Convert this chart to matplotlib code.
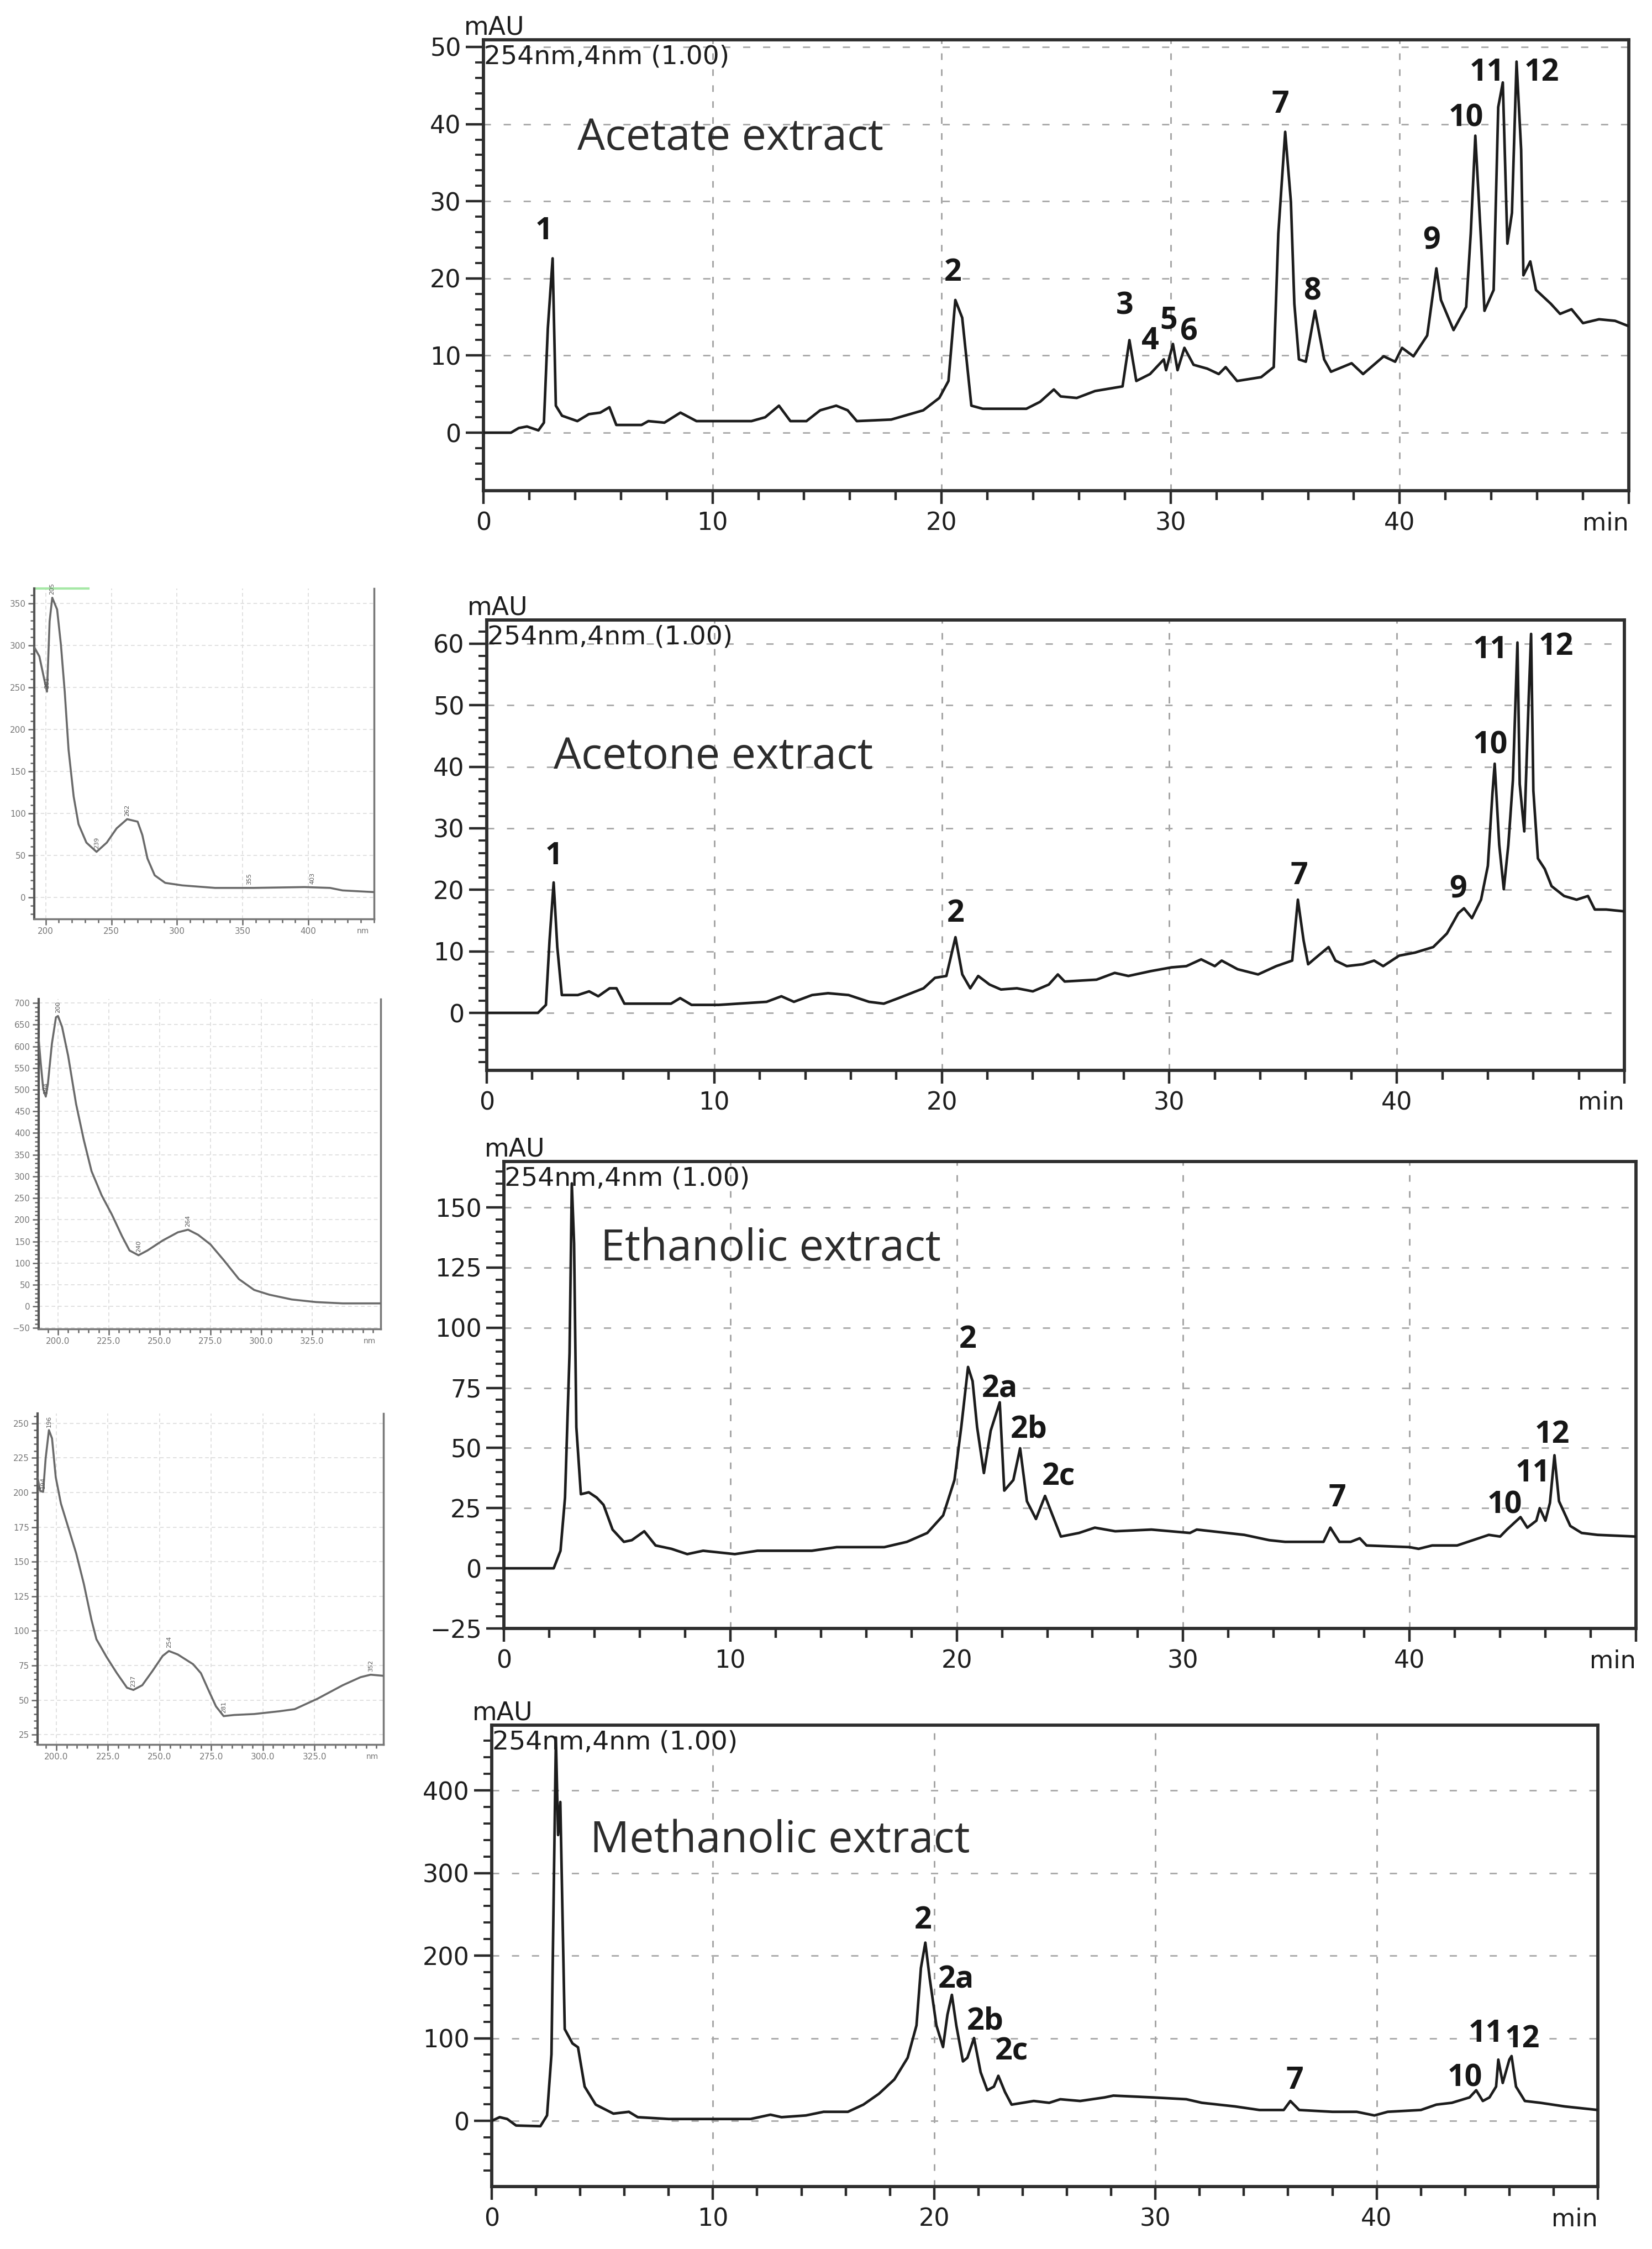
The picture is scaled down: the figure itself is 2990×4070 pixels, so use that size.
import numpy as np
import matplotlib
matplotlib.use("Agg")
import matplotlib.pyplot as plt
from matplotlib.ticker import MultipleLocator

# HPLC chromatograms at 254 nm: (retention time [min], signal [mAU])
acetate = np.array([
    (0, 0), (1.2, 0), (1.54, 0.6), (1.9, 0.8), (2.4, 0.3), (2.64, 1.3), (2.81, 13.5), (3.02, 22.6),
    (3.16, 3.5), (3.43, 2.2), (4.1, 1.5), (4.6, 2.4), (5.1, 2.6), (5.5, 3.3), (5.8, 1.0), (6.9, 1.0),
    (7.2, 1.5), (7.9, 1.3), (8.6, 2.6), (9.3, 1.5), (11.7, 1.5), (12.3, 2.0), (12.9, 3.5), (13.4, 1.5),
    (14.1, 1.5), (14.7, 2.9), (15.4, 3.5), (15.9, 2.9), (16.3, 1.5), (17.8, 1.7), (19.2, 2.9), (19.9, 4.5),
    (20.3, 6.7), (20.6, 17.2), (20.9, 14.9), (21.3, 3.5), (21.8, 3.1), (23.7, 3.1), (24.3, 4.0), (24.9, 5.6),
    (25.2, 4.7), (25.9, 4.5), (26.7, 5.4), (27.9, 6.0), (28.2, 12.0), (28.5, 6.7), (29.1, 7.6), (29.7, 9.5),
    (29.8, 8.1), (30.1, 11.5), (30.3, 8.1), (30.6, 11.0), (31.0, 8.8), (31.6, 8.3), (32.1, 7.6), (32.4, 8.5),
    (32.9, 6.7), (33.95, 7.2), (34.5, 8.5), (34.7, 25.8), (35.0, 39.0), (35.25, 29.9), (35.4, 16.7),
    (35.6, 9.5), (35.9, 9.2), (36.3, 15.8), (36.7, 9.5), (37.0, 7.9), (37.9, 9.0), (38.4, 7.6), (39.3, 9.9),
    (39.8, 9.2), (40.1, 11.0), (40.6, 9.9), (41.2, 12.6), (41.6, 21.3), (41.8, 17.2), (42.35, 13.3),
    (42.9, 16.3), (43.1, 25.8), (43.3, 38.5), (43.55, 24.9), (43.7, 15.8), (44.1, 18.5), (44.3, 42.2),
    (44.5, 45.4), (44.7, 24.5), (44.9, 28.5), (45.1, 48.1), (45.3, 36.7), (45.4, 20.4), (45.7, 22.2),
    (45.95, 18.5), (46.6, 16.7), (47.0, 15.4), (47.5, 16.0), (48.0, 14.2), (48.7, 14.7), (49.4, 14.5),
    (50.0, 13.8)])

acetone = np.array([
    (0, 0), (2.25, 0), (2.6, 1.3), (2.76, 11.8), (2.94, 21.2), (3.1, 10.7), (3.3, 2.9), (4.0, 2.9),
    (4.5, 3.5), (4.9, 2.7), (5.4, 4.0), (5.7, 4.0), (6.05, 1.5), (8.1, 1.5), (8.5, 2.4), (9.0, 1.3),
    (10.2, 1.3), (12.3, 1.8), (12.95, 2.7), (13.5, 1.8), (14.3, 2.9), (15.0, 3.2), (15.9, 2.9), (16.8, 1.8),
    (17.45, 1.5), (18.1, 2.4), (19.2, 4.0), (19.7, 5.7), (20.2, 6.0), (20.6, 12.3), (20.9, 6.25),
    (21.25, 4.0), (21.6, 6.0), (22.1, 4.6), (22.6, 3.8), (23.3, 4.0), (24.0, 3.5), (24.7, 4.6), (25.1, 6.25),
    (25.4, 5.1), (26.8, 5.4), (27.6, 6.5), (28.2, 6.0), (29.2, 6.8), (30.1, 7.4), (30.75, 7.6), (31.4, 8.7),
    (32.0, 7.6), (32.3, 8.5), (33.0, 7.1), (33.9, 6.25), (34.7, 7.6), (35.4, 8.5), (35.65, 18.4),
    (35.9, 11.8), (36.1, 7.9), (36.45, 9.0), (37.0, 10.7), (37.3, 8.5), (37.8, 7.6), (38.5, 7.9), (39.0, 8.5),
    (39.4, 7.6), (40.1, 9.3), (40.8, 9.8), (41.6, 10.7), (42.2, 12.9), (42.7, 16.2), (42.95, 17.0),
    (43.3, 15.4), (43.7, 18.4), (44.0, 23.9), (44.2, 35.6), (44.3, 40.5), (44.5, 27.3), (44.7, 20.1),
    (44.9, 27.3), (45.1, 37.8), (45.3, 60.2), (45.4, 37.2), (45.6, 29.5), (45.8, 51.6), (45.9, 61.6),
    (46.0, 36.1), (46.2, 25.1), (46.5, 23.4), (46.8, 20.6), (47.35, 19.0), (47.9, 18.4), (48.4, 19.0),
    (48.7, 16.8), (49.2, 16.8), (50.0, 16.5)])

ethanolic = np.array([
    (0, 0), (2.2, 0), (2.5, 7.3), (2.7, 29.4), (2.9, 89.5), (3.0, 160), (3.1, 135), (3.2, 58.7), (3.4, 30.8),
    (3.75, 31.6), (4.1, 29.4), (4.4, 26.4), (4.8, 16.1), (5.3, 11.0), (5.65, 11.7), (6.2, 15.4), (6.7, 9.5),
    (7.4, 8.1), (8.1, 5.9), (8.8, 7.3), (10.2, 5.9), (11.2, 7.3), (13.6, 7.3), (14.7, 8.8), (16.8, 8.8),
    (17.8, 11.0), (18.7, 14.7), (19.4, 22.0), (19.9, 36.7), (20.2, 58.7), (20.5, 83.7), (20.7, 77.8),
    (20.9, 58.7), (21.2, 39.6), (21.5, 57.2), (21.9, 69.0), (22.1, 32.3), (22.5, 36.7), (22.8, 49.9),
    (23.1, 27.9), (23.5, 20.5), (23.9, 30.1), (24.2, 22.8), (24.6, 13.2), (25.4, 14.7), (26.1, 16.9),
    (27.0, 15.4), (28.6, 16.1), (30.3, 14.7), (30.6, 16.1), (32.7, 13.9), (33.8, 11.7), (34.5, 11.0),
    (36.2, 11.0), (36.5, 16.9), (36.9, 11.0), (37.4, 11.0), (37.8, 12.5), (38.1, 9.5), (40.0, 8.8),
    (40.4, 8.1), (41.0, 9.5), (42.1, 9.5), (42.8, 11.7), (43.5, 13.9), (44.0, 13.2), (44.3, 16.1),
    (44.9, 21.3), (45.2, 16.9), (45.6, 19.8), (45.75, 25.0), (46.0, 19.8), (46.2, 27.2), (46.4, 47.0),
    (46.6, 27.9), (47.1, 17.6), (47.6, 14.7), (48.3, 13.9), (50.0, 13.2)])

methanolic = np.array([
    (0, 0), (0.36, 4.4), (0.7, 2.2), (1.1, -5.7), (2.2, -6.5), (2.5, 6.5), (2.7, 80.6), (2.9, 464),
    (3.0, 346), (3.1, 386), (3.3, 111), (3.65, 93.7), (3.9, 89), (4.2, 41.4), (4.7, 19.6), (5.5, 8.7),
    (6.2, 10.9), (6.6, 4.4), (8.0, 2.2), (11.7, 2.2), (12.6, 7.4), (13.1, 4.4), (14.2, 6.5), (15.0, 10.9),
    (16.1, 10.9), (16.8, 19.6), (17.5, 32.7), (18.2, 50.1), (18.8, 76.3), (19.2, 115.5), (19.4, 185),
    (19.6, 215.7), (19.8, 172), (20.1, 115.5), (20.4, 89.3), (20.6, 128.5), (20.8, 152.5), (21.0, 115.5),
    (21.3, 71.9), (21.5, 76.3), (21.8, 100.2), (22.1, 58.8), (22.4, 37), (22.7, 41.4), (22.9, 54.5),
    (23.2, 34.9), (23.5, 19.6), (24.5, 24), (25.2, 21.8), (25.7, 26.1), (26.6, 24), (27.7, 28.3),
    (28.1, 30.5), (29.9, 28.3), (31.4, 26.1), (32.1, 21.8), (33.6, 17.4), (34.7, 13.1), (35.8, 13.1),
    (36.1, 24), (36.5, 13.1), (38.0, 10.9), (39.1, 10.9), (39.9, 6.5), (40.5, 10.9), (42.0, 13.1),
    (42.7, 19.6), (43.4, 21.8), (44.2, 28.3), (44.5, 37), (44.8, 24), (45.1, 28.3), (45.4, 41.4),
    (45.5, 74.1), (45.7, 45.8), (46.0, 74.1), (46.1, 78.4), (46.3, 41.4), (46.7, 24), (47.4, 21.8),
    (48.5, 17.4), (50.0, 13.1)])

# peak numbers: (label, time, height of label baseline)
acetate_peaks = [("1", 2.64, 25.1), ("2", 20.5, 19.7), ("3", 28.0, 15.4), ("4", 29.1, 10.8),
                 ("5", 29.9, 13.5), ("6", 30.8, 12.0), ("7", 34.8, 41.5), ("8", 36.2, 17.2),
                 ("9", 41.4, 23.8), ("10", 42.9, 39.7), ("11", 43.8, 45.6), ("12", 46.2, 45.6)]
acetone_peaks = [("1", 2.94, 24.2), ("2", 20.6, 14.8), ("7", 35.7, 20.9), ("9", 42.7, 18.7),
                 ("10", 44.1, 42.2), ("11", 44.1, 57.7), ("12", 47.0, 58.2)]
ethanolic_peaks = [("2", 20.5, 91.7), ("2a", 21.9, 71.2), ("2b", 23.2, 54.3), ("2c", 24.5, 34.5),
                   ("7", 36.8, 25.7), ("10", 44.2, 22.8), ("11", 45.45, 36.0), ("12", 46.3, 52.1)]
methanolic_peaks = [("2", 19.5, 233), ("2a", 21.0, 161), ("2b", 22.3, 111), ("2c", 23.5, 74),
                    ("7", 36.3, 39), ("10", 44.0, 42), ("11", 44.95, 96), ("12", 46.6, 89)]

# UV spectra of peaks: (wavelength [nm], absorbance [mAU])
uv_1 = np.array([
    (191.3, 298), (195.2, 287), (199, 259), (201, 245), (203, 329), (205, 357), (208.7, 343), (211.6, 301),
    (214.5, 245), (217.4, 176), (221.3, 120), (225, 87), (231, 65), (238.7, 54), (246.5, 65), (254, 82),
    (262, 93), (270, 90), (273.6, 74), (277.5, 46), (283, 26), (291, 17), (304, 14), (329, 11), (358, 11),
    (397, 12), (416.5, 11), (426, 8), (450, 6)])
uv_2 = np.array([
    (190.5, 617), (191.5, 562), (192.75, 501), (194, 484), (195, 512), (197, 606), (199, 667), (200, 670),
    (202, 645), (205, 578), (208.9, 467), (212.7, 384), (216.5, 312), (221.5, 256), (226.5, 212),
    (231.5, 162), (235.2, 129), (239.6, 118), (244, 129), (251.5, 152), (259, 171), (264, 177), (269, 165),
    (275, 143), (281.5, 107), (289, 63), (296.5, 38), (304, 27), (315, 16), (327, 10), (340, 7),
    (358.75, 7)])
uv_3 = np.array([
    (190.9, 210.7), (192.1, 201.2), (193.6, 200.4), (194.8, 224.5), (196.4, 245), (197.9, 239),
    (199.7, 211), (202.2, 192), (205.3, 177), (209.6, 156), (213.3, 134), (217, 108), (219.4, 94),
    (224.4, 81), (229.3, 69.5), (234.2, 59), (237.3, 57.4), (241.6, 60.8), (246.5, 71), (251.5, 82),
    (254.5, 85.5), (258.8, 83), (266.2, 76), (270, 69.5), (273.6, 57.5), (277.3, 45.5), (281, 38.5),
    (286, 39.3), (295.8, 40), (308, 42), (315.4, 43.5), (326.4, 51), (338.7, 60.8), (347.3, 66.6),
    (352.2, 68.4), (358.4, 67.6)])
uv_1_marks = [201, 205, 238.7, 262, 355, 403]
uv_2_marks = [194, 200, 239.6, 264]
uv_3_marks = [193.6, 196.4, 237.3, 254.5, 281, 352.2]

W, H = 2990, 4070


def rect(left, top, right, bottom):
    # pixel box -> figure fraction
    return [left / W, 1 - bottom / H, (right - left) / W, (bottom - top) / H]


fig = plt.figure(figsize=(W / 100, H / 100), dpi=100)
fig.patch.set_facecolor("white")

chroms = [
    (acetate, acetate_peaks, "Acetate extract", (4.1, 36.7), rect(875, 72, 2948, 888),
     (-7.52, 50.93), np.arange(0, 51, 10), 2),
    (acetone, acetone_peaks, "Acetone extract", (2.94, 39.7), rect(881, 1122, 2940, 1937),
     (-9.34, 63.86), np.arange(0, 61, 10), 2),
    (ethanolic, ethanolic_peaks, "Ethanolic extract", (4.27, 128), rect(912, 2102, 2961, 2947),
     (-25, 169.1), np.arange(-25, 151, 25), 5),
    (methanolic, methanolic_peaks, "Methanolic extract", (4.45, 325), rect(890, 3122, 2892, 3957),
     (-79.6, 479), np.arange(0, 401, 100), 20),
]

ink = "#1c1c1c"
for trace, peaks, title, title_xy, box, ylim, yticks, yminor in chroms:
    ax = fig.add_axes(box)
    ax.plot(trace[:, 0], trace[:, 1], color=ink, lw=3.4, zorder=3)
    ax.set_xlim(0, 50)
    ax.set_ylim(*ylim)
    ax.set_xticks([0, 10, 20, 30, 40, 50])
    ax.set_xticklabels(["0", "10", "20", "30", "40", ""])
    ax.xaxis.set_minor_locator(MultipleLocator(2))
    ax.set_yticks(yticks)
    ax.yaxis.set_minor_locator(MultipleLocator(yminor))
    ax.tick_params(which="both", direction="out", color="#2a2a2a", labelcolor="#1e1e1e",
                   labelsize=32)
    ax.tick_params(axis="x", which="major", length=17, width=3.2, pad=10)
    ax.tick_params(axis="x", which="minor", length=12, width=3.2)
    ax.tick_params(axis="y", which="major", length=23, width=3.2, pad=6)
    ax.tick_params(axis="y", which="minor", length=11, width=2.8)
    for x in (10, 20, 30, 40):
        ax.axvline(x, color="#a0a0a0", lw=2, ls=(0, (4.3, 6.1)), zorder=1)
    for y in yticks:
        ax.axhline(y, color="#a8a8a8", lw=2, ls=(0, (4.7, 8.3)), zorder=1)
    for s in ax.spines.values():
        s.set_linewidth(4.2)
        s.set_color("#2e2e2e")

    ax.annotate("mAU", xy=(0, 1), xycoords="axes fraction", xytext=(-25, 7),
                textcoords="offset points", ha="left", va="baseline", fontsize=33, color=ink)
    ax.annotate("254nm,4nm (1.00)", xy=(0, 1), xycoords="axes fraction", xytext=(1, -6),
                textcoords="offset points", ha="left", va="top", fontsize=34, color=ink)
    ax.annotate("min", xy=(1, 0), xycoords="axes fraction", xytext=(0, -27),
                textcoords="offset points", ha="right", va="top", fontsize=32, color=ink)

    ax.text(title_xy[0], title_xy[1], title, family="Open Sans", fontsize=57,
            color="#2c2c2c", ha="left", va="baseline", zorder=4)
    for lab, t, y in peaks:
        ax.text(t, y, lab, family="Open Sans", fontweight="bold", fontsize=40,
                color="#161616", ha="center", va="baseline", zorder=4)

# UV spectra in the left column
spectra = [
    (uv_1, uv_1_marks, rect(62, 1065, 677, 1663), (191.3, 450), (-26, 368),
     np.arange(200, 401, 50), "{:.0f}", np.arange(0, 351, 50), 10, 10),
    (uv_2, uv_2_marks, rect(70, 1808, 689, 2405), (190.5, 358.75), (-52, 709),
     np.arange(200, 326, 25), "{:.1f}", np.arange(-50, 701, 50), 5, 10),
    (uv_3, uv_3_marks, rect(68, 2558, 694, 3157), (190.9, 358.4), (18, 257),
     np.arange(200, 326, 25), "{:.1f}", np.arange(25, 251, 25), 5, 5),
]

grey = "#6a6a6a"
for i, (spec, marks, box, xlim, ylim, xt, xfmt, yt, xminor, yminor) in enumerate(spectra):
    ax = fig.add_axes(box)
    ax.plot(spec[:, 0], spec[:, 1], color=grey, lw=2.6, zorder=3)
    ax.set_xlim(*xlim)
    ax.set_ylim(*ylim)
    ax.set_xticks(xt)
    ax.set_xticklabels([xfmt.format(v) for v in xt])
    ax.set_yticks(yt)
    ax.xaxis.set_minor_locator(MultipleLocator(xminor))
    ax.yaxis.set_minor_locator(MultipleLocator(yminor))
    ax.tick_params(which="both", direction="out", color="#666666", labelcolor="#777777",
                   labelsize=11, width=1.8)
    ax.tick_params(which="major", length=8, pad=3)
    ax.tick_params(which="minor", length=5)
    ax.grid(True, which="major", color="#dcdcdc", lw=1.2, ls=(0, (4, 3)), zorder=0)
    ax.spines["top"].set_visible(False)
    ax.spines["left"].set_color("#555555")
    ax.spines["left"].set_linewidth(3)
    ax.spines["right"].set_color("#777777")
    ax.spines["right"].set_linewidth(2.5)
    ax.spines["bottom"].set_color("#777777")
    ax.spines["bottom"].set_linewidth(2.5)
    ax.annotate("nm", xy=(0.985, 0), xycoords="axes fraction", xytext=(0, -11),
                textcoords="offset points", ha="right", va="top", fontsize=10, color="#777777")
    for w in marks:
        a = np.interp(w, spec[:, 0], spec[:, 1])
        ax.annotate("{:.0f}".format(w), xy=(w, a), xytext=(0, 4), textcoords="offset points",
                    rotation=90, ha="center", va="bottom", fontsize=8, color="#555555")
    if i == 0:
        ax.plot([0, 0.16], [1.0, 1.0], transform=ax.transAxes, color="#a6e8a6", lw=3,
                clip_on=False)

fig.savefig("out.png", dpi=100, facecolor="white")
